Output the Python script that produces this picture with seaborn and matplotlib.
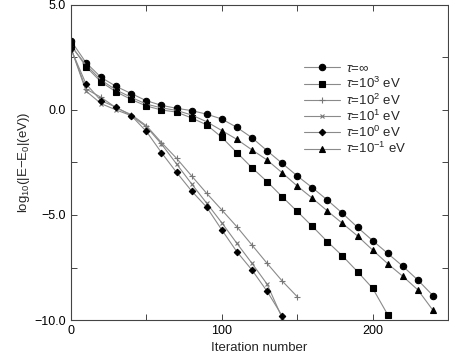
import matplotlib
matplotlib.use("Agg")
import matplotlib.pyplot as plt
import seaborn as sns
import numpy as np
import pandas as pd

sns.set_theme(style="white")
plt.rcParams['font.family'] = ['Liberation Sans', 'DejaVu Sans']
plt.rcParams['mathtext.fontset'] = 'custom'
plt.rcParams['mathtext.rm'] = 'Liberation Sans'
plt.rcParams['mathtext.it'] = 'Liberation Sans:italic'

labels = [r'$\tau$=$\infty$', r'$\tau$=10$^{3}$ eV', r'$\tau$=10$^{2}$ eV',
          r'$\tau$=10$^{1}$ eV', r'$\tau$=10$^{0}$ eV', r'$\tau$=10$^{-1}$ eV']

iters_inf = [0, 10, 20, 30, 40, 50, 60, 70, 80, 90, 100, 110, 120, 130, 140, 150,
             160, 170, 180, 190, 200, 210, 220, 230, 240]
vals_inf = [3.3, 2.25, 1.55, 1.12, 0.78, 0.44, 0.22, 0.08, -0.03, -0.2, -0.43, -0.83,
            -1.32, -1.94, -2.54, -3.14, -3.7, -4.29, -4.92, -5.59, -6.22, -6.83,
            -7.44, -8.1, -8.84]

iters_1e3 = [0, 10, 20, 30, 40, 50, 60, 70, 80, 90, 100, 110, 120, 130, 140, 150,
             160, 170, 180, 190, 200, 210]
vals_1e3 = [3.1, 2.06, 1.33, 0.86, 0.5, 0.19, 0.0, -0.1, -0.38, -0.71, -1.3, -2.03,
            -2.75, -3.41, -4.13, -4.83, -5.54, -6.27, -6.95, -7.7, -8.49, -9.75]

iters_1e2 = [0, 10, 20, 30, 40, 50, 60, 70, 80, 90, 100, 110, 120, 130, 140, 150]
vals_1e2 = [2.95, 1.0, 0.6, 0.1, -0.22, -0.75, -1.55, -2.3, -3.14, -3.97, -4.76,
            -5.56, -6.43, -7.3, -8.14, -8.89]

iters_1e1 = [0, 10, 20, 30, 40, 50, 60, 70, 80, 90, 100, 110, 120, 130, 140]
vals_1e1 = [2.95, 0.9, 0.3, 0.0, -0.27, -0.8, -1.62, -2.57, -3.52, -4.44, -5.37,
            -6.35, -7.3, -8.29, -9.9]

iters_1e0 = [0, 10, 20, 30, 40, 50, 60, 70, 80, 90, 100, 110, 120, 130, 140]
vals_1e0 = [2.9, 1.24, 0.44, 0.13, -0.27, -1.02, -2.03, -2.97, -3.86, -4.63, -5.71,
            -6.75, -7.62, -8.63, -9.8]

iters_1em1 = [0, 10, 20, 30, 40, 50, 60, 70, 80, 90, 100, 110, 120, 130, 140, 150,
              160, 170, 180, 190, 200, 210, 220, 230, 240]
vals_1em1 = [3.05, 2.15, 1.42, 0.95, 0.6, 0.28, 0.1, -0.02, -0.24, -0.56, -0.98, -1.4,
             -1.9, -2.38, -2.99, -3.62, -4.2, -4.81, -5.4, -6.0, -6.67, -7.32, -7.92,
             -8.57, -9.54]

series = [
    (iters_inf, vals_inf, 'o', 4.6, 'black'),
    (iters_1e3, vals_1e3, 's', 3.8, 'black'),
    (iters_1e2, vals_1e2, '+', 5.0, '#777777'),
    (iters_1e1, vals_1e1, 'x', 3.3, '#777777'),
    (iters_1e0, vals_1e0, 'D', 3.3, 'black'),
    (iters_1em1, vals_1em1, '^', 4.3, 'black'),
]

fig = plt.figure(figsize=(4.49, 3.54), dpi=100)
ax = fig.add_axes([0.158, 0.096, 0.84, 0.890])

for (xs, ys, mk, ms, mc), lab in zip(series, labels):
    df = pd.DataFrame({'x': xs, 'y': ys})
    sns.lineplot(data=df, x='x', y='y', ax=ax, color='#8a8a8a', linewidth=0.8,
                 marker=mk, markersize=ms, markerfacecolor=mc, markeredgecolor=mc,
                 markeredgewidth=0.8, label=lab)

ax.set_xlim(0, 250)
ax.set_ylim(-10, 5)
ax.set_xticks(np.arange(0, 251, 50))
ax.set_xticklabels(['0', '', '100', '', '200', ''])
ax.set_yticks(np.arange(-10, 5.01, 2.5))
ax.set_yticklabels(['\u221210.0', '', '\u22125.0', '', '0.0', '', '5.0'])
ax.tick_params(direction='in', length=4, width=0.7, color='#444444', labelsize=9,
               top=True, right=True, bottom=True, left=True, labelcolor='black')
for s in ax.spines.values():
    s.set_color('#444444')
    s.set_linewidth(0.8)

ax.set_xlabel('Iteration number', fontsize=9.5)
ax.set_ylabel(r'log$_{10}$(|E$-$E$_0$|(eV))', fontsize=9.5, labelpad=2)

leg = ax.legend(loc='upper left', bbox_to_anchor=(0.59, 0.85), frameon=False,
                fontsize=9.5, handlelength=2.7, labelspacing=0.08, handletextpad=0.5,
                borderpad=0.3)

fig.savefig('out.png', dpi=100)
